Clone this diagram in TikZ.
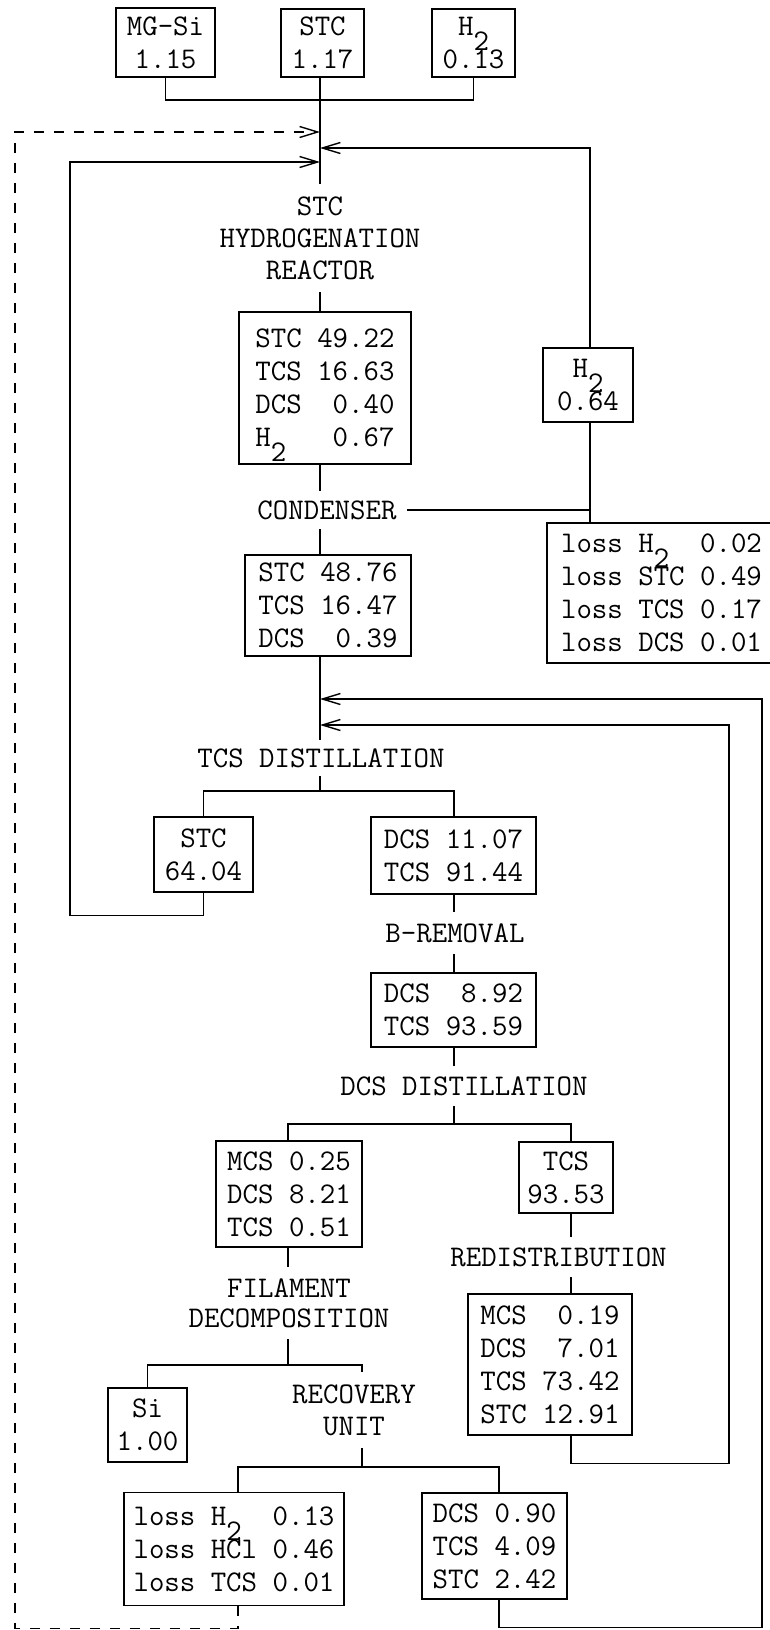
\documentclass[tikz,border=0pt]{standalone}
\usetikzlibrary{arrows.meta}
\newcommand\boxfont{\fontsize{30}{33}\selectfont\ttfamily}
\newcommand\two{\smash{\raisebox{-15pt}{2}}}
\begin{document}
\begin{tikzpicture}[x=1pt,y=-1pt,line width=1.4pt,
  box/.style={draw,font=\boxfont,align=left,inner sep=0pt},
  cbox/.style={box,align=center},
  lbl/.style={font=\boxfont,align=center,inner xsep=10pt,inner ysep=10pt},
  flow/.style={-{Straight Barb[length=18pt,width=11pt]}},
  dflow/.style={flow,dash pattern=on 10pt off 10pt}]
\useasboundingbox (0,0) rectangle (770,1630);
\fill[white] (0,0) rectangle (770,1630);
% columns
\coordinate (c1) at (320,0);
\coordinate (c2) at (454,0);
\coordinate (c3) at (288,0);
\coordinate (c4) at (571,0);
\coordinate (c5) at (362,0);
\coordinate (c6) at (499,0);
\coordinate (c7) at (238,0);
\coordinate (cR) at (590,0);
% arrow targets on the main line
\coordinate (a1) at (320,132);
\coordinate (a2) at (320,148);
\coordinate (a3) at (320,162);
\coordinate (a4) at (320,699);
\coordinate (a5) at (320,725);
% corners
\coordinate (jn) at (320,100);
\coordinate (lL) at (70,162);
\coordinate (lD) at (15,132);
\coordinate (lR1) at (729,725);
\coordinate (lR2) at (762,699);
\coordinate (s1) at (320,791);
\coordinate (s2) at (454,1124);
\coordinate (s3) at (288,1365);
\coordinate (s4) at (362,1467);

% feed boxes
\node[cbox,minimum width=99pt,minimum height=69pt] (mgsi) at (165.5,42.5) {MG-Si\\1.15};
\node[cbox,minimum width=83pt,minimum height=68pt] (stcin) at (322.5,43) {STC\\1.17};
\node[cbox,minimum width=83pt,minimum height=68pt] (h2in) at (473.5,43) {H\two\\0.13};

% reactor
\node[lbl,inner ysep=12pt,font=\fontsize{30}{32}\selectfont\ttfamily] (reactor) at (320,238) {STC\\HYDROGENATION\\REACTOR};
\node[box,minimum width=172pt,minimum height=152pt] (r1) at (325,388) {STC~49.22\\TCS~16.63\\DCS~~0.40\\H\two~~~0.67};
\node[lbl,inner ysep=9pt] (cond) at (327,510) {CONDENSER};
\node[box,minimum width=166pt,minimum height=101pt] (r2) at (328,605.5) {STC~48.76\\TCS~16.47\\DCS~~0.39};
\node[cbox,minimum width=90pt,minimum height=74pt] (h2r) at (588,385) {H\two\\0.64};
\node[box,minimum width=229pt,minimum height=140pt] (loss1) at (661.5,593) {loss~H\two~~0.02\\loss~STC~0.49\\loss~TCS~0.17\\loss~DCS~0.01};

% TCS distillation
\node[lbl,inner ysep=8pt] (tcsd) at (321,758) {TCS DISTILLATION};
\node[cbox,minimum width=99pt,minimum height=75pt] (stco) at (203.5,854.5) {STC\\64.04};
\node[box,minimum width=165pt,minimum height=77pt] (r3) at (453.5,855.5) {DCS~11.07\\TCS~91.44};
\node[lbl,inner ysep=11pt] (brem) at (455,933) {B-REMOVAL};
\node[box,minimum width=165pt,minimum height=74pt] (r4) at (453.5,1010) {DCS~~8.92\\TCS~93.59};

% DCS distillation
\node[lbl] (dcsd) at (464,1086) {DCS DISTILLATION};
\node[box,minimum width=146pt,minimum height=106pt] (mcs) at (289,1194) {MCS~0.25\\DCS~8.21\\TCS~0.51};
\node[cbox,minimum width=94pt,minimum height=71pt] (tcs2) at (566,1177.5) {TCS\\93.53};
\node[lbl] (redis) at (558.5,1257) {REDISTRIBUTION};
\node[box,minimum width=164pt,minimum height=141pt] (rd) at (550,1364.5) {MCS~~0.19\\DCS~~7.01\\TCS~73.42\\STC~12.91};

% filament decomposition and recovery
\node[lbl,inner ysep=11pt,font=\fontsize{30}{30}\selectfont\ttfamily] (fil) at (289,1303) {FILAMENT\\DECOMPOSITION};
\node[cbox,minimum width=79pt,minimum height=74pt] (si) at (147.5,1425) {Si\\1.00};
\node[lbl,inner ysep=12pt,font=\fontsize{30}{32}\selectfont\ttfamily] (recov) at (354,1410) {RECOVERY\\UNIT};
\node[box,minimum width=220pt,minimum height=113pt] (loss2) at (234,1549) {loss~H\two~~0.13\\loss~HCl~0.46\\loss~TCS~0.01};
\node[box,minimum width=145pt,minimum height=106pt] (r5) at (494.5,1546) {DCS~0.90\\TCS~4.09\\STC~2.42};

% ---- connectors ----
\draw (mgsi.south) |- (jn);
\draw (h2in.south) |- (jn);
\draw (c1 |- stcin.south) -- (c1 |- reactor.north);
\draw (c1 |- reactor.south) -- (c1 |- r1.north);
\draw (c1 |- r1.south) -- (c1 |- cond.north);
\draw (c1 |- cond.south) -- (c1 |- r2.north);
\draw (cond.east) -- (cR |- cond.east);
\draw (cR |- cond.east) -- (cR |- h2r.south);
\draw (cR |- cond.east) -- (cR |- loss1.north);
\draw[flow] (cR |- h2r.north) |- (a2);
\draw (c1 |- r2.south) -- (c1 |- tcsd.north);
\draw (c1 |- tcsd.south) -- (s1);
\draw (stco.north) |- (s1) -| (c2 |- r3.north);
\draw[flow] (stco.south) -- ++(0,23) -| (lL) -- (a3);
\draw (c2 |- r3.south) -- (c2 |- brem.north);
\draw (c2 |- brem.south) -- (c2 |- r4.north);
\draw (c2 |- r4.south) -- (c2 |- dcsd.north);
\draw (c2 |- dcsd.south) -- (s2);
\draw (c3 |- mcs.north) |- (s2) -| (c4 |- tcs2.north);
\draw (c4 |- tcs2.south) -- (c4 |- redis.north);
\draw (c4 |- redis.south) -- (c4 |- rd.north);
\draw[flow] (c4 |- rd.south) -- ++(0,28) -| (lR1) -- (a5);
\draw (c3 |- mcs.south) -- (c3 |- fil.north);
\draw (c3 |- fil.south) -- (s3);
\draw (si.north) |- (s3) -| (c5 |- recov.north);
\draw (c5 |- recov.south) -- (s4);
\draw (c7 |- loss2.north) |- (s4) -| (c6 |- r5.north);
\draw[flow] (c6 |- r5.south) -- ++(0,28) -| (lR2) -- (a4);
\draw[dflow] (c7 |- loss2.south) -- ++(0,22) -| (lD) -- (a1);
\end{tikzpicture}
\end{document}
